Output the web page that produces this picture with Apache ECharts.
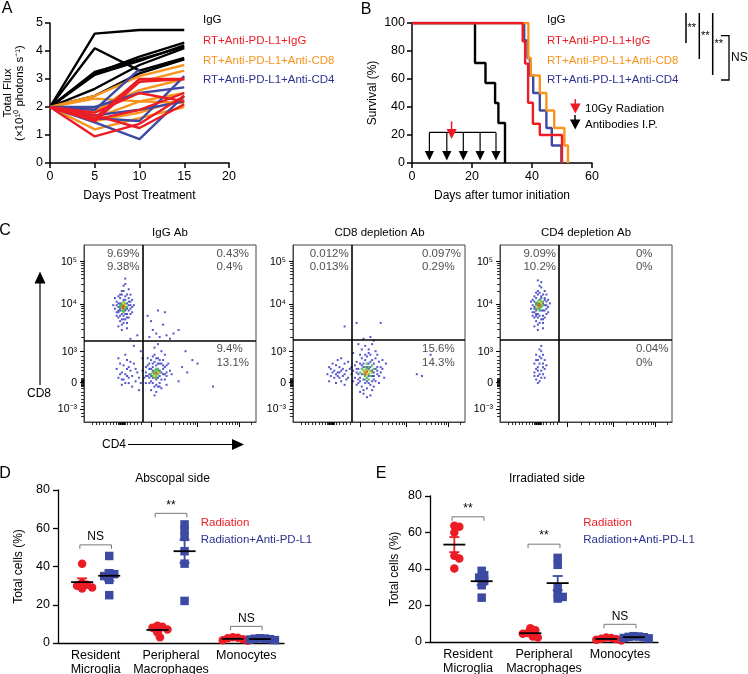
<!DOCTYPE html>
<html><head><meta charset="utf-8">
<script src="https://cdn.jsdelivr.net/npm/echarts@6/dist/echarts.min.js"></script>
<style>html,body{margin:0;padding:0;background:#fff}#c{width:748px;height:674px}</style>
</head><body><div id="c"></div>
<script>
// ---------------- DATA ----------------
// Panel A: total flux (x10^10 photons/s) per mouse on days 0,5,10,15
const fluxDays = [0, 5, 10, 15];
const fluxIgG = [[2,4.62,4.75,4.75],[2,4.1,3.3,3.75],[2,3.2,3.8,4.3],[2,3.15,3.65,4.2],[2,2.65,3.5,4.1],[2,2.4,3.2,3.7],[2,3.25,3.7,4.15]];
const fluxAntiCD8 = [[2,2.4,3.1,3.5],[2,1.8,2.9,3.3],[2,2.3,2.2,2.5],[2,1.5,1.8,2.3],[2,1.2,1.6,2.0],[2,1.9,2.6,3.0],[2,1.6,2.2,2.15]];
const fluxAntiCD4 = [[2,1.45,0.85,2.4],[2,1.9,3.35,null],[2,1.6,1.5,3.1],[2,2.0,2.5,2.7],[2,1.7,1.9,2.2]];
const fluxRTIgG = [[2,0.95,1.4,2.4],[2,1.5,2.9,3.0],[2,1.6,3.0,3.0],[2,1.7,1.25,2.1],[2,1.8,2.5,2.2],[2,1.55,1.9,2.5]];
const legendA = ['IgG','RT+Anti-PD-L1+IgG','RT+Anti-PD-L1+Anti-CD8','RT+Anti-PD-L1+Anti-CD4'];

// Panel B: Kaplan-Meier survival [day, %]
const survIgG = [[0,100],[21,71.4],[24.5,57.1],[27.7,42.9],[28.8,28.6],[31,0]];
const survRTIgG = [[0,100],[36.9,87],[37.7,71],[38.7,43],[40.3,28],[42.6,20],[50,0]];
const survAntiCD8 = [[0,100],[38.8,75],[39.6,62.5],[42.6,50],[44.8,37.5],[47.4,25],[50.8,12.5],[52,0]];
const survAntiCD4 = [[0,100],[37.4,87.5],[38.5,75],[39.3,62.5],[40.4,50],[42.6,37.5],[44.8,25],[46.6,12.5],[49.8,0]];
const antibodyDays = [5.8, 11.6, 17.1, 22.7, 28];
const radiationDays = [13.2];

// Panel C: flow cytometry (axis units 0-100 of the display scale)
const flowTitles = ['IgG Ab','CD8 depletion Ab','CD4 depletion Ab'];
const flowYTickVals = [7.2, 22.2, 39.7, 66.7, 90.6];
const flowYTickLabels = ['10\u207B\u00B3','0','10\u00B3','10\u2074','10\u2075'];
const flowXTickVals = [39, 66, 90];
const flowGates = [[34.1,45.8],[34.2,46.3],[34.4,46.3]];
const quadIgG = [['9.69%','9.38%'],['0.43%','0.4%'],['9.4%','13.1%']];
const quadCD8dep = [['0.012%','0.013%'],['0.097%','0.29%'],['15.6%','14.3%']];
const quadCD4dep = [['9.09%','10.2%'],['0%','0%'],['0.04%','0%']];

const flowIgGBlue = [[19,66],[20,62],[21,70],[18,64],[26,63],[27,68],[25,72],[22,74],[24,58],[21,57],[20,71],[28,65],[26,59],[19,60],[23,77],[22,55],[25,53],[24,78],[17,66],[27,61],[21,67],[26,70],[20,59],[28,69],[23,60],[19,68],[24,71],[22,61],[27,64],[25,61],[21,63],[23,69],[26,66],[20,65],[24,63],[22,72],[25,67],[19,62],[28,62],[21,60],[23,56],[24,81],[22,52],[20,54],[26,75],[18,70],[25,56],[27,72],[29,66],[23,74],
 [20,67],[21,64],[25,64],[26,68],[24,69],[20,63],[22,58],[25,59],[27,66],[21,72],[23,58],[24,61],
 [36,28],[38,22],[40,33],[44,35],[46,30],[47,24],[43,20],[39,18],[37,32],[48,28],[41,38],[45,40],[42,17],[35,25],[49,33],[40,25],[44,22],[38,30],[46,27],[42,32],[36,22],[48,21],[43,36],[39,35],[41,20],[45,33],[37,26],[47,31],[40,29],[44,26],[42,24],[38,27],[46,35],[41,42],[43,44],[50,29],[39,23],[45,19],[41,15],[37,36],[47,38],[44,29],[42,28],[40,31],[43,25],[38,25],[45,28],[39,30],[36,31],[48,26],[34,29],[51,27],[42,21],[44,33],[40,37],
 [39,26],[45,24],[46,32],[38,33],[43,33],[47,27],[40,22],[44,20],[41,34],[36,26],[48,32],[42,36],
 [20,25],[22,28],[24,22],[26,31],[21,33],[28,26],[25,35],[23,24],[27,29],[30,23],[19,30],[24,27],[29,33],[22,21],[26,25],[31,28],[20,36],[25,30],[23,32],[28,20],[21,27],[27,34],[24,38],[30,30],[22,24],[26,22],[32,25],[25,26],
 [37,60],[40,52],[44,48],[46,55],[48,49],[52,50],[43,63],[39,57],[50,47],[47,62],[42,50],[55,52],[38,48],[63,35],[66,33],[75,20],[59,40],[60,28],[55,23],[57,31],[27,47],[29,43],[33,40],[31,49],[33,22],[34,36],[32,18]];
const flowIgGCore = [[22,65],[23,66],[24,64],[22,63],[23,64],[21,65],[24,67],[22,67],[23,62],[25,65],[21,66],[23,68],[24,65],[22,66],[23,63],
 [41,27],[42,29],[43,27],[40,26],[42,26],[41,29],[43,29],[40,28],[42,25],[44,28],[41,25],[43,30],[39,27],[42,30],[41,28]];
const flowIgGHot = [[23,65],[22,64],[24,66],[23,67],[42,27],[41,26],[43,28],[42,28]];
const flowIgGPeak = [[23,65.5],[22.5,64.5],[42,27.5]];

const flowCD8Blue = [[36,25],[38,30],[40,20],[42,35],[45,38],[47,33],[49,27],[50,22],[46,18],[41,16],[37,34],[39,38],[44,41],[48,40],[52,30],[53,25],[35,29],[43,19],[47,24],[39,23],[41,31],[46,29],[44,33],[38,27],[50,34],[42,22],[48,36],[36,32],[45,21],[40,36],[51,28],[43,37],[37,21],[49,31],[44,26],[42,29],[46,35],[40,27],[48,23],[39,33],[45,31],[41,24],[47,28],[43,31],[38,22],[50,26],[44,39],[42,43],[46,44],[40,41],[54,33],[34,27],[35,23],[43,14],[45,15],[41,18],[47,20],[39,17],[52,35],[49,38],[37,28],[43,23],[46,26],[44,30],[48,30],
 [39,25],[41,33],[45,34],[47,26],[38,24],[49,29],[44,22],[42,38],[40,32],[46,23],[51,31],[37,30],
 [20,27],[22,30],[24,25],[26,28],[21,23],[23,33],[25,22],[27,31],[29,26],[31,29],[28,23],[30,33],[32,25],[24,29],[26,35],[22,26],[28,29],[30,21],[33,30],[25,32],[27,25],[29,30],[23,28],[31,24],[26,26],[21,31],[32,34],[28,36],[30,27],[34,31],[27,28],[25,27],
 [30,54],[37,56],[51,56],[45,48],[47,46],[72,27],[75,26],[80,38],[38,44],[41,47],[35,39]];
const flowCD8Core = [[42,28],[43,30],[44,27],[41,29],[45,29],[42,26],[44,31],[43,25],[40,30],[46,28],[42,31],[45,26],[41,27],[43,33],[44,24],[39,28],[47,30],[42,24],[46,32]];
const flowCD8Hot = [[43,28],[42,29],[44,29],[43,27],[41,28],[45,28]];
const flowCD8Peak = [[43,28.5],[42,27]];

const flowCD4Blue = [[19,66],[20,62],[21,70],[18,64],[26,63],[27,68],[25,72],[22,74],[24,58],[21,57],[20,71],[28,65],[26,59],[19,60],[23,77],[22,55],[25,53],[24,76],[18,68],[27,61],[21,67],[26,70],[20,59],[28,69],[23,60],[19,69],[24,71],[22,61],[27,64],[25,60],[21,63],[23,69],[26,66],[20,65],[24,63],[22,72],[25,67],[19,62],[28,62],[21,60],[23,56],[22,52],[20,54],[26,74],[25,56],[27,72],[29,67],[23,73],[24,79],[22,80],
 [20,68],[21,61],[25,63],[26,69],[24,70],[20,64],[22,59],[25,58],[27,66],[21,73],
 [21,30],[23,27],[25,33],[22,35],[24,25],[20,28],[26,30],[23,37],[21,24],[25,27],[22,31],[24,36],[20,33],[26,25],[23,23],[24,29],[22,26],[25,38],[21,35],[27,32],[23,41],[24,43],[22,22],[26,35],[20,26],[25,31],[23,33],[24,40],[22,29],[21,38]];
const flowCD4Core = [[22,66],[23,67],[24,65],[22,64],[23,65],[21,66],[24,68],[22,68],[23,63],[25,66],[21,67],[23,69],[24,66],[22,67],[23,64],[25,68],[21,64]];
const flowCD4Hot = [[23,66],[22,65],[24,67],[23,68]];
const flowCD4Peak = [[23,66.5],[22.5,65.5]];

// Panels D & E: total cells (%)
const cellCategories = ['Resident\nMicroglia','Peripheral\nMacrophages','Monocytes'];
const groupNames = ['Radiation','Radiation+Anti-PD-L1'];
const abscopalRadiation = [[41.5,31.5,30.5,30,29,28.5],[9,8.5,8,7,5.5,3],[3,2.8,2.5,2,1.5,1.2]];
const abscopalCombo = [[45.5,36.5,36,35,33,25],[62,59,55.5,48,41.5,22],[2.5,2.2,2,1.8,1.5,2.3]];
const abscopalSig = ['NS','**','NS'];
const abscopalSigLevel = [51.3, 67.8, 8.7];
const irradiatedRadiation = [[63.7,63.2,60,47.2,45.8,40.3],[7.5,6.5,5,4.5,3,2.5],[2.5,2.2,1.8,1.2,0.8,1.5]];
const irradiatedCombo = [[36.6,39,35.3,33.5,31.1,24.3],[42.3,46.1,29.8,26.9,24.7,23.8],[3.2,3,2.6,2.2,2,2.8]];
const irradiatedSig = ['**','**','NS'];
const irradiatedSigLevel = [68.6, 53.6, 9.7];

// ---------------- STYLE / LAYOUT ----------------
const FONT = '"Liberation Sans", Arial, Helvetica, sans-serif';
const RED = '#ed1c24', ORANGE = '#f7941d', BLUE = '#3d4aa3', BLUE_T = '#2e3192';
const F = (s) => s + 'px ' + FONT;

function T(x, y, text, opt) {
  opt = opt || {};
  return {type:'text', x:x, y:y, silent:true, z:100, rotation: opt.rotation || 0,
    style:Object.assign({text:text, fill:'#000', font:F(12), align:'left', verticalAlign:'middle'}, opt.style || {})};
}
function L(x1,y1,x2,y2,c,w){return {type:'line',silent:true,z:100,shape:{x1,y1,x2,y2},style:{stroke:c||'#000',lineWidth:w||1.5}};}
function P(points,c){return {type:'polygon',silent:true,z:100,shape:{points},style:{fill:c||'#000'}};}

const grids = [
  {left:50, top:23, width:179, height:140},   // A
  {left:412, top:23, width:180, height:140},  // B
  {left:84, top:245, width:172, height:177},  // C1
  {left:293, top:245, width:172, height:177}, // C2
  {left:500, top:245, width:172, height:177}, // C3
  {left:58, top:490, width:226, height:153},  // D
  {left:430, top:496, width:228, height:146}  // E
].map(g => Object.assign({outerBoundsMode:'none', containLabel:false}, g));
[2,3,4].forEach(i => Object.assign(grids[i], {show:true, borderColor:'#444', borderWidth:1, backgroundColor:'transparent'}));

const axLine = {show:true, onZero:false, lineStyle:{color:'#000', width:1.5}};
const axTick = {show:true, inside:false, length:5, lineStyle:{color:'#000', width:1.5}};
const axLab = (m) => ({color:'#000', fontSize:12.5, fontFamily:FONT, margin:m});

// flow tick helpers (display-scale tick marks)
const flowXMinor = [];
for (let v = 5; v <= 33; v += 2) flowXMinor.push(v);
for (let v = 20; v <= 24.01; v += 0.4) flowXMinor.push(+v.toFixed(2));
for (let k = 2; k <= 9; k++) { flowXMinor.push(39 + 27*Math.log10(k)); flowXMinor.push(66 + 24*Math.log10(k)); }
flowXMinor.push(90 + 24*Math.log10(2));
const flowYMinor = [3, 5];
for (let v = 9; v <= 37; v += 2) flowYMinor.push(v);
for (let v = 20.2; v <= 24.3; v += 0.4) flowYMinor.push(+v.toFixed(2));
for (let k = 2; k <= 9; k++) { flowYMinor.push(39.7 + 27*Math.log10(k)); flowYMinor.push(66.7 + 23.9*Math.log10(k)); }

const xAxis = [], yAxis = [];
// A
xAxis.push({gridIndex:0, type:'value', min:0, max:20, interval:5, axisLine:axLine, axisTick:axTick, axisLabel:axLab(7), splitLine:{show:false},
  name:'Days Post Treatment', nameLocation:'middle', nameGap:27, nameTextStyle:{fontSize:12, fontFamily:FONT, color:'#000', verticalAlign:'top'}});
yAxis.push({gridIndex:0, type:'value', min:0, max:5, interval:1, axisLine:axLine, axisTick:axTick, axisLabel:axLab(7), splitLine:{show:false},
  name:'Total Flux\n(\u00D710\u00B9\u2070 photons s\u207B\u00B9)', nameLocation:'middle', nameGap:24, nameRotate:90,
  nameTextStyle:{fontSize:11.5, lineHeight:12, fontFamily:FONT, color:'#000'}});
// B
xAxis.push({gridIndex:1, type:'value', min:0, max:60, interval:20, axisLine:axLine, axisTick:axTick, axisLabel:axLab(7), splitLine:{show:false},
  name:'Days after tumor initiation', nameLocation:'middle', nameGap:27, nameTextStyle:{fontSize:12, fontFamily:FONT, color:'#000', verticalAlign:'top'}});
yAxis.push({gridIndex:1, type:'value', min:0, max:100, interval:20, axisLine:axLine, axisTick:axTick, axisLabel:axLab(7), splitLine:{show:false},
  name:'Survival (%)', nameLocation:'middle', nameGap:33, nameRotate:90, nameTextStyle:{fontSize:12, fontFamily:FONT, color:'#000'}});
// C
for (let i = 0; i < 3; i++) {
  const gi = 2 + i;
  xAxis.push({gridIndex:gi, type:'value', min:0, max:100, position:'bottom', axisLine:{show:true, onZero:false, lineStyle:{color:'#444', width:1}},
    axisTick:{show:true, length:5, customValues:flowXTickVals, lineStyle:{color:'#000', width:1}}, axisLabel:{show:false}, splitLine:{show:false}});
  xAxis.push({gridIndex:gi, type:'value', min:0, max:100, position:'bottom', axisLine:{show:false, onZero:false},
    axisTick:{show:true, length:3, customValues:flowXMinor, lineStyle:{color:'#000', width:0.8}}, axisLabel:{show:false}, splitLine:{show:false}});
  yAxis.push({gridIndex:gi, type:'value', min:0, max:100, position:'left', axisLine:{show:true, onZero:false, lineStyle:{color:'#444', width:1}},
    axisTick:{show:true, length:4, customValues:flowYTickVals, lineStyle:{color:'#000', width:1}},
    axisLabel:{show:true, customValues:flowYTickVals, margin:7, fontSize:10.5, fontFamily:FONT, color:'#000',
      formatter:(v) => { const k = flowYTickVals.findIndex(t => Math.abs(t - v) < 0.01); return k >= 0 ? flowYTickLabels[k] : ''; }},
    splitLine:{show:false}});
  yAxis.push({gridIndex:gi, type:'value', min:0, max:100, position:'left', axisLine:{show:false, onZero:false},
    axisTick:{show:true, length:3, customValues:flowYMinor, lineStyle:{color:'#000', width:0.8}}, axisLabel:{show:false}, splitLine:{show:false}});
}
// D & E: value axis 0..3, one unit per cell type, labelled at the unit centres
const catCenters = cellCategories.map((c, i) => i + 0.5);
[5, 6].forEach((gi) => {
  xAxis.push({gridIndex:gi, type:'value', min:0, max:3, position:'bottom', axisLine:{show:true, onZero:false, lineStyle:{color:'#000', width:1.3}},
    axisTick:{show:false},
    axisLabel:{show:true, customValues:catCenters, color:'#000', fontSize:12.5, lineHeight:14.5, fontFamily:FONT, margin:5,
      formatter:(v) => { const k = catCenters.findIndex(t => Math.abs(t - v) < 0.01); return k >= 0 ? cellCategories[k] : ''; }},
    splitLine:{show:false}});
  yAxis.push({gridIndex:gi, type:'value', min:0, max:80, interval:20, position:'left',
    axisLine:{show:true, onZero:false, lineStyle:{color:'#000', width:1.3}},
    axisTick:{show:true, length:5, lineStyle:{color:'#000', width:1.3}}, axisLabel:axLab(8), splitLine:{show:false},
    name:'Total cells (%)', nameLocation:'middle', nameGap: gi === 5 ? 33 : 29, nameRotate:90, nameTextStyle:{fontSize:12, fontFamily:FONT, color:'#000'}});
});

const series = [];
// ---- A lines
function fluxSeries(arr, color) {
  arr.forEach(vals => series.push({type:'line', xAxisIndex:0, yAxisIndex:0, symbol:'none', silent:true,
    data: fluxDays.map((d, i) => [d, vals[i]]), lineStyle:{color, width:2.4}, connectNulls:false}));
}
fluxSeries(fluxIgG, '#000');
fluxSeries(fluxAntiCD8, ORANGE);
fluxSeries(fluxAntiCD4, BLUE);
fluxSeries(fluxRTIgG, RED);

// ---- B survival
[[survIgG,'#000'],[survAntiCD4,BLUE],[survAntiCD8,ORANGE],[survRTIgG,RED]].forEach(([d,c]) =>
  series.push({type:'line', xAxisIndex:1, yAxisIndex:1, step:'end', symbol:'none', silent:true, data:d, lineStyle:{color:c, width:2.4}}));

series.push({type:'custom', xAxisIndex:1, yAxisIndex:1, silent:true, z:5, data: antibodyDays.map(d => [d]),
  renderItem: (params, api) => {
    const p = api.coord([api.value(0), 0]);
    const y0 = p[1];
    const ch = [
      {type:'line', shape:{x1:p[0], y1:y0-30.6, x2:p[0], y2:y0-12}, style:{stroke:'#000', lineWidth:1.2}},
      {type:'polygon', shape:{points:[[p[0]-4.6,y0-12],[p[0]+4.6,y0-12],[p[0],y0-2.5]]}, style:{fill:'#000'}}
    ];
    if (params.dataIndex === 0) {
      const q = api.coord([antibodyDays[antibodyDays.length-1], 0]);
      ch.push({type:'line', shape:{x1:p[0], y1:y0-30.6, x2:q[0], y2:y0-30.6}, style:{stroke:'#000', lineWidth:1.2}});
    }
    return {type:'group', children:ch};
  }});
series.push({type:'custom', xAxisIndex:1, yAxisIndex:1, silent:true, z:5, data: radiationDays.map(d => [d]),
  renderItem: (params, api) => {
    const p = api.coord([api.value(0), 0]);
    const y0 = p[1];
    return {type:'group', children:[
      {type:'line', shape:{x1:p[0], y1:y0-41.6, x2:p[0], y2:y0-33}, style:{stroke:RED, lineWidth:1.5}},
      {type:'polygon', shape:{points:[[p[0]-5,y0-34],[p[0]+5,y0-34],[p[0],y0-24]]}, style:{fill:RED}}
    ]};
  }});

// ---- C flow plots
const flowSets = [
  {blue:flowIgGBlue, core:flowIgGCore, hot:flowIgGHot, peak:flowIgGPeak, quad:quadIgG},
  {blue:flowCD8Blue, core:flowCD8Core, hot:flowCD8Hot, peak:flowCD8Peak, quad:quadCD8dep},
  {blue:flowCD4Blue, core:flowCD4Core, hot:flowCD4Hot, peak:flowCD4Peak, quad:quadCD4dep}
];
const quadRightX = [77, 75, 79];
flowSets.forEach((f, i) => {
  const xa = 2 + i*2, ya = 2 + i*2, g = flowGates[i];
  series.push({type:'scatter', xAxisIndex:xa, yAxisIndex:ya, data:f.blue, symbol:'rect', symbolSize:2, silent:true,
    itemStyle:{color:'#3a3ac4', opacity:0.85},
    markLine:{silent:true, symbol:'none', animation:false, label:{show:false}, lineStyle:{color:'#000', width:1.6, type:'solid'},
      data:[{xAxis:g[0]},{yAxis:g[1]}]}});
  series.push({type:'scatter', xAxisIndex:xa, yAxisIndex:ya, data:f.core, symbol:'rect', symbolSize:2.3, silent:true, itemStyle:{color:'#3fae49'}});
  series.push({type:'scatter', xAxisIndex:xa, yAxisIndex:ya, data:f.hot, symbol:'rect', symbolSize:2.3, silent:true, itemStyle:{color:'#d8d42a'}});
  series.push({type:'scatter', xAxisIndex:xa, yAxisIndex:ya, data:f.peak, symbol:'rect', symbolSize:2.3, silent:true, itemStyle:{color:'#e0402a'}});
  series.push({type:'scatter', xAxisIndex:xa, yAxisIndex:ya, symbolSize:0, silent:true, z:10,
    label:{show:true, position:'inside', formatter:(p) => p.name, fontSize:11.5, lineHeight:13.4, color:'#222', fontFamily:FONT, verticalAlign:'middle'},
    data:[
      {value:[g[0]-1.8, 91.5], name:f.quad[0].join('\n'), label:{align:'right'}},
      {value:[quadRightX[i], 91.5], name:f.quad[1].join('\n'), label:{align:'left'}},
      {value:[quadRightX[i], 37.3], name:f.quad[2].join('\n'), label:{align:'left'}}
    ]});
});

// ---- D & E dot plots
function swarm(vals, center, pxX, pxY, d) {
  const placed = [], out = [];
  const order = vals.map((v, i) => i).sort((a, b) => vals[b] - vals[a]);
  const cands = [0];
  for (let j = 1; j < 12; j++) cands.push(j*d*0.5, -j*d*0.5);
  for (const i of order) {
    const y = vals[i]*pxY;
    let x = 0;
    for (const c of cands) { if (placed.every(p => Math.hypot(p[0]-c, p[1]-y) >= d)) { x = c; break; } }
    placed.push([x, y]);
    out[i] = [center + x/pxX, vals[i]];
  }
  return out;
}
function stats(v) {
  const n = v.length, m = v.reduce((a, b) => a + b, 0)/n;
  const sd = Math.sqrt(v.reduce((a, b) => a + (b-m)*(b-m), 0)/(n-1));
  return [m, sd/Math.sqrt(n)];
}
function meanSem(color) {
  return (params, api) => {
    const x = api.value(0), m = api.value(1), s = api.value(2);
    const c = api.coord([x, m]), t = api.coord([x, m+s]), b = api.coord([x, Math.max(0, m-s)]);
    const st = {stroke:color, lineWidth:1.8};
    return {type:'group', children:[
      {type:'line', shape:{x1:c[0], y1:t[1], x2:c[0], y2:b[1]}, style:st},
      {type:'line', shape:{x1:c[0]-5, y1:t[1], x2:c[0]+5, y2:t[1]}, style:st},
      {type:'line', shape:{x1:c[0]-5, y1:b[1], x2:c[0]+5, y2:b[1]}, style:st},
      {type:'line', shape:{x1:c[0]-11, y1:c[1], x2:c[0]+11, y2:c[1]}, style:{stroke:'#000', lineWidth:1.8}}
    ]};
  };
}
function dotPanel(gridIdx, xAxisIdx, yAxisIdx, radVals, comboVals, sigLabels, sigLevels) {
  const g = grids[gridIdx];
  const pxX = g.width/3, pxY = g.height/80, off = 0.18;
  [[radVals, RED, 'circle', -off], [comboVals, BLUE, 'rect', off]].forEach(([vals, color, sym, o]) => {
    let pts = [], ms = [];
    vals.forEach((v, ci) => { const c = catCenters[ci] + o; pts = pts.concat(swarm(v, c, pxX, pxY, 5)); const s = stats(v); ms.push([c, s[0], s[1]]); });
    series.push({type:'scatter', xAxisIndex:xAxisIdx, yAxisIndex:yAxisIdx, data:pts, symbol:sym, symbolSize:8.5, silent:true, itemStyle:{color, opacity:1}, z:3});
    series.push({type:'custom', xAxisIndex:xAxisIdx, yAxisIndex:yAxisIdx, data:ms, renderItem:meanSem(color), silent:true, z:6});
  });
  series.push({type:'custom', xAxisIndex:xAxisIdx, yAxisIndex:yAxisIdx, silent:true, z:6,
    data: sigLevels.map((lv, ci) => [catCenters[ci], lv]),
    renderItem: (params, api) => {
      const cx = api.value(0), lv = api.value(1);
      const p1 = api.coord([cx-0.21, lv]), p2 = api.coord([cx+0.21, lv]);
      return {type:'group', children:[
        {type:'polyline', shape:{points:[[p1[0],p1[1]+4],[p1[0],p1[1]],[p2[0],p2[1]],[p2[0],p2[1]+4]]}, style:{stroke:'#777', lineWidth:1, fill:null}},
        {type:'text', x:(p1[0]+p2[0])/2, y:p1[1]-2, style:{text:sigLabels[params.dataIndex], font:F(12), fill:'#000', align:'center', verticalAlign:'bottom', textAlign:'center', textVerticalAlign:'bottom'}}
      ]};
    }});
}
dotPanel(5, 8, 8, abscopalRadiation, abscopalCombo, abscopalSig, abscopalSigLevel);
dotPanel(6, 9, 9, irradiatedRadiation, irradiatedCombo, irradiatedSig, irradiatedSigLevel);

// ---------------- TEXT / ANNOTATIONS ----------------
const legColors = ['#000', RED, ORANGE, BLUE_T];
const legYs = [20, 40.7, 60.5, 80];
const graphic = [];
[['A',7,9],['B',366,10],['C',5,231],['D',5,474],['E',381,474]].forEach(([t,x,y]) =>
  graphic.push(T(x, y, t, {style:{font:F(16), align:'center'}})));
legendA.forEach((t, i) => { graphic.push(T(203, legYs[i], t, {style:{fill:legColors[i], font:F(11.5)}})); graphic.push(T(547, legYs[i], t, {style:{fill:legColors[i], font:F(11.5)}})); });
graphic.push(L(575.3, 99, 575.3, 104, RED, 1.5), P([[570,103.5],[580.7,103.5],[575.3,113.5]], RED), T(585, 108.5, '10Gy Radiation', {style:{font:F(11.5)}}));
graphic.push(L(575, 115, 575, 120, '#000', 1.5), P([[570,119.5],[580.5,119.5],[575.2,129.5]], '#000'), T(585, 125, 'Antibodies I.P.', {style:{font:F(11.5)}}));
graphic.push(L(686, 13, 686, 43), L(699.3, 13, 699.3, 59), L(712.7, 13, 712.7, 75));
graphic.push(T(687.5, 28, '**', {style:{font:F(11)}}), T(701, 36, '**', {style:{font:F(11)}}), T(714.5, 44, '**', {style:{font:F(11)}}));
graphic.push({type:'polyline', silent:true, z:100, shape:{points:[[721,35.7],[729,35.7],[729,80],[721,80]]}, style:{stroke:'#000', lineWidth:1.3, fill:null}});
graphic.push(T(731, 58, 'NS', {style:{font:F(12)}}));
[170, 379.5, 586].forEach((x, i) => graphic.push(T(x, 233, flowTitles[i], {style:{font:F(11.5), align:'center'}})));
graphic.push(L(40, 283, 40, 385, '#000', 1.2), P([[34.5,283.5],[45.5,283.5],[40,271.5]]), T(39, 394, 'CD8', {style:{font:F(12), align:'center'}}));
graphic.push(L(128, 444.5, 233, 444.5, '#000', 1.2), P([[232,439],[232,450],[244,444.5]]), T(102, 444.5, 'CD4', {style:{font:F(12)}}));
graphic.push(T(172.5, 479, 'Abscopal side', {style:{font:F(12), align:'center'}}));
graphic.push(T(547, 479, 'Irradiated side', {style:{font:F(12), align:'center'}}));
graphic.push(T(200.7, 523.3, groupNames[0], {style:{font:F(11.5), fill:RED}}), T(200.7, 540, groupNames[1], {style:{font:F(11.5), fill:BLUE_T}}));
graphic.push(T(583.3, 523.3, groupNames[0], {style:{font:F(11.5), fill:RED}}), T(583.3, 540, groupNames[1], {style:{font:F(11.5), fill:BLUE_T}}));

const chart = echarts.init(document.getElementById('c'), null, {renderer:'canvas', width:748, height:674});
chart.setOption({animation:false, backgroundColor:'#fff', textStyle:{fontFamily:FONT}, grid:grids, xAxis, yAxis, series, graphic});
</script></body></html>
